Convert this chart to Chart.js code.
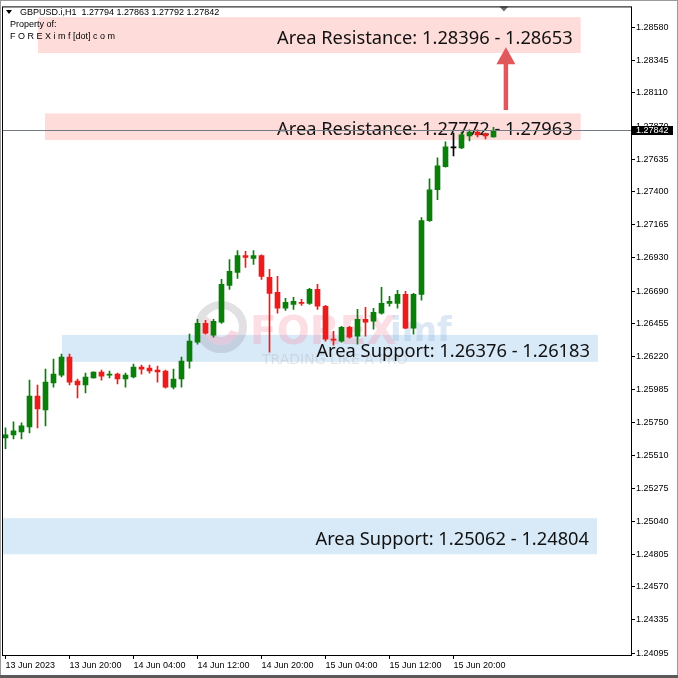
<!DOCTYPE html>
<html>
<head>
<meta charset="utf-8">
<title>GBPUSD H1</title>
<script src="https://cdn.jsdelivr.net/npm/chart.js@4.4.0/dist/chart.umd.min.js"></script>
<style>
  html, body { margin: 0; padding: 0; background: #fff; }
  #wrap { width: 678px; height: 678px; }
</style>
</head>
<body>
<div id="wrap"><canvas id="myChart" width="678" height="678"></canvas></div>
<script>
// GBPUSD.i H1, one bar per hour starting 13 Jun 2023 12:00
const symbol = 'GBPUSD.i,H1';

const opens = [1.25638, 1.25660, 1.25681, 1.25717, 1.25938, 1.25838, 1.26031, 1.26088, 1.26217, 1.26045,
  1.26017, 1.26067, 1.26110, 1.26088, 1.26095, 1.26060, 1.26074, 1.26145, 1.26138, 1.26124,
  1.26117, 1.26002, 1.26060, 1.26188, 1.26324, 1.26459, 1.26374, 1.26467, 1.26731, 1.26824,
  1.26945, 1.26924, 1.26945, 1.26788, 1.26681, 1.26567, 1.26595, 1.26609, 1.26602, 1.26702,
  1.26581, 1.26345, 1.26331, 1.26431, 1.26367, 1.26488, 1.26474, 1.26531, 1.26602, 1.26602,
  1.26666, 1.26424, 1.26666, 1.27195, 1.27416, 1.27581, 1.27716, 1.27716, 1.27802, 1.27830,
  1.27816, 1.27794];
const highs = [1.25710, 1.25753, 1.25745, 1.26052, 1.26017, 1.26131, 1.26202, 1.26238, 1.26238, 1.26060,
  1.26102, 1.26112, 1.26124, 1.26117, 1.26102, 1.26102, 1.26167, 1.26160, 1.26160, 1.26152,
  1.26124, 1.26131, 1.26217, 1.26381, 1.26488, 1.26481, 1.26488, 1.26774, 1.26916, 1.26981,
  1.26974, 1.26981, 1.26950, 1.26845, 1.26795, 1.26638, 1.26645, 1.26631, 1.26709, 1.26738,
  1.26588, 1.26402, 1.26438, 1.26438, 1.26559, 1.26574, 1.26567, 1.26716, 1.26652, 1.26695,
  1.26688, 1.26674, 1.27216, 1.27495, 1.27645, 1.27759, 1.27823, 1.27830, 1.27845, 1.27845,
  1.27823, 1.27863];
const lows = [1.25560, 1.25631, 1.25631, 1.25674, 1.25710, 1.25724, 1.26002, 1.26074, 1.26017, 1.25924,
  1.25960, 1.26065, 1.26052, 1.26067, 1.26024, 1.26002, 1.26067, 1.26095, 1.26102, 1.26038,
  1.25995, 1.25988, 1.26002, 1.26138, 1.26309, 1.26381, 1.26359, 1.26459, 1.26702, 1.26781,
  1.26859, 1.26881, 1.26774, 1.26252, 1.26531, 1.26552, 1.26559, 1.26588, 1.26595, 1.26559,
  1.26331, 1.26302, 1.26324, 1.26352, 1.26309, 1.26367, 1.26417, 1.26524, 1.26581, 1.26567,
  1.26420, 1.26381, 1.26624, 1.27190, 1.27345, 1.27578, 1.27659, 1.27710, 1.27766, 1.27795,
  1.27780, 1.27792];
const closes = [1.25660, 1.25688, 1.25724, 1.25938, 1.25845, 1.26038, 1.26095, 1.26217, 1.26038, 1.26017,
  1.26074, 1.26110, 1.26081, 1.26095, 1.26060, 1.26088, 1.26145, 1.26131, 1.26117, 1.26110,
  1.26002, 1.26060, 1.26188, 1.26331, 1.26459, 1.26388, 1.26474, 1.26738, 1.26831, 1.26945,
  1.26931, 1.26945, 1.26795, 1.26674, 1.26567, 1.26609, 1.26617, 1.26602, 1.26702, 1.26581,
  1.26345, 1.26338, 1.26431, 1.26359, 1.26488, 1.26467, 1.26538, 1.26602, 1.26617, 1.26666,
  1.26424, 1.26666, 1.27195, 1.27416, 1.27588, 1.27723, 1.27716, 1.27809, 1.27830, 1.27809,
  1.27802, 1.27842];

// one label every 8 bars
const timeLabels = ['13 Jun 2023', '13 Jun 20:00', '14 Jun 04:00', '14 Jun 12:00',
  '14 Jun 20:00', '15 Jun 04:00', '15 Jun 12:00', '15 Jun 20:00'];
const priceTicks = [1.28580, 1.28345, 1.28110, 1.27870, 1.27635, 1.27400, 1.27165, 1.26930, 1.26690, 1.26455,
  1.26220, 1.25985, 1.25750, 1.25510, 1.25275, 1.25040, 1.24805, 1.24570, 1.24335, 1.24095];

// zones drawn on the chart (from / to in bars)
const zones = [
  { kind: 'res', label: 'Area Resistance: 1.28396 - 1.28653', low: 1.28396, high: 1.28653, from: 4.06, to: 71.9 },
  { kind: 'res', label: 'Area Resistance: 1.27772 - 1.27963', low: 1.27772, high: 1.27963, from: 4.94, to: 71.9 },
  { kind: 'sup', label: 'Area Support: 1.26376 - 1.26183', low: 1.26183, high: 1.26376, from: 7.06, to: 74.06 },
  { kind: 'sup', label: 'Area Support: 1.25062 - 1.24804', low: 1.24804, high: 1.25062, from: -1, to: 73.94 }
];
const arrow = { at: 62.55, from: 1.27987, to: 1.28437 };
const shiftMark = 62.3;

const lastClose = closes[closes.length - 1];
const candleColor = opens.map((o, i) => closes[i] > o ? '#0a7f0a' : closes[i] < o ? '#ec1c1c' : '#000000');
const bodies = opens.map((o, i) => ({ x: i, y: [o, closes[i]] }));
const wicks = opens.map((o, i) => ({ x: i, y: [lows[i], highs[i]] }));

const smallFont = { family: 'Liberation Sans', size: 9 };

const overlay = {
  id: 'overlay',
  beforeDatasetsDraw(chart) {
    const { ctx, chartArea: a, scales: { x, y } } = chart;
    ctx.save();
    ctx.beginPath();
    ctx.rect(a.left, a.top, a.right - a.left, a.bottom - a.top);
    ctx.clip();

    zones.forEach(z => {
      const x0 = Math.max(a.left, x.getPixelForValue(z.from));
      const x1 = x.getPixelForValue(z.to);
      const y0 = y.getPixelForValue(z.high);
      const y1 = y.getPixelForValue(z.low);
      ctx.fillStyle = z.kind === 'res' ? '#fddcda' : '#d8e9f8';
      ctx.fillRect(x0, y0, x1 - x0, y1 - y0);
    });

    // faint watermark
    ctx.lineWidth = 8;
    ctx.strokeStyle = 'rgba(140,140,150,0.26)';
    ctx.beginPath(); ctx.arc(221, 327, 22, 0, Math.PI * 2); ctx.stroke();
    ctx.strokeStyle = 'rgba(240,130,155,0.30)';
    ctx.beginPath(); ctx.arc(221, 327, 14, 0.1 * Math.PI, 1.2 * Math.PI); ctx.stroke();
    ctx.textBaseline = 'alphabetic';
    ctx.textAlign = 'left';
    ctx.font = 'bold 39px "DejaVu Sans"';
    ctx.fillStyle = 'rgba(245,135,160,0.28)';
    ctx.fillText('FOREX', 250, 344);
    ctx.font = 'bold 34px "DejaVu Sans"';
    ctx.fillStyle = 'rgba(140,180,220,0.30)';
    ctx.fillText('imf', 390, 341);
    ctx.font = '14px "DejaVu Sans"';
    ctx.fillStyle = 'rgba(175,175,180,0.32)';
    ctx.fillText('TRADING LIKE A PRO', 262, 364);

    // zone captions
    ctx.font = '18.3px "Noto Sans"';
    ctx.fillStyle = '#111';
    ctx.textAlign = 'right';
    zones.forEach(z => {
      const x1 = x.getPixelForValue(z.to);
      const yc = (y.getPixelForValue(z.high) + y.getPixelForValue(z.low)) / 2;
      ctx.fillText(z.label, x1 - 8, yc + 8.5);
    });
    ctx.restore();
  },
  afterDatasetsDraw(chart) {
    const { ctx, chartArea: a, scales: { x, y } } = chart;
    ctx.save();
    // current price line
    const py = Math.round(y.getPixelForValue(lastClose)) + 0.5;
    ctx.strokeStyle = '#757b84';
    ctx.lineWidth = 1;
    ctx.beginPath(); ctx.moveTo(a.left, py); ctx.lineTo(a.right, py); ctx.stroke();

    // arrow between the two resistance zones
    const ax = x.getPixelForValue(arrow.at);
    const yTail = y.getPixelForValue(arrow.from);
    const yTip = y.getPixelForValue(arrow.to);
    ctx.strokeStyle = '#e0575c';
    ctx.fillStyle = '#e0575c';
    ctx.lineWidth = 4.5;
    ctx.beginPath(); ctx.moveTo(ax, yTail); ctx.lineTo(ax, yTip + 14); ctx.stroke();
    ctx.beginPath();
    ctx.moveTo(ax, yTip);
    ctx.lineTo(ax - 9.5, yTip + 17);
    ctx.lineTo(ax + 9.5, yTip + 17);
    ctx.closePath(); ctx.fill();

    // chart shift marker
    const sx = x.getPixelForValue(shiftMark);
    ctx.fillStyle = '#707070';
    ctx.beginPath();
    ctx.moveTo(sx - 4.5, a.top); ctx.lineTo(sx + 4.5, a.top); ctx.lineTo(sx, a.top + 5);
    ctx.closePath(); ctx.fill();
    ctx.restore();
  },
  afterDraw(chart) {
    const { ctx, chartArea: a, scales: { y } } = chart;
    ctx.save();
    // plot frame
    ctx.strokeStyle = '#000';
    ctx.lineWidth = 1;
    ctx.strokeRect(a.left + 0.5, a.top + 0.5, a.right - a.left, a.bottom - a.top);

    // last price box
    const py = Math.round(y.getPixelForValue(lastClose));
    ctx.fillStyle = '#000';
    ctx.fillRect(a.right, py - 4, 42, 9);
    ctx.fillStyle = '#fff';
    ctx.font = '9px "Liberation Sans"';
    ctx.textBaseline = 'middle';
    ctx.textAlign = 'left';
    ctx.fillText(lastClose.toFixed(5), a.right + 5, py + 0.5);

    // header
    const n = closes.length - 1;
    ctx.fillStyle = '#000';
    ctx.beginPath();
    ctx.moveTo(6, 10); ctx.lineTo(12, 10); ctx.lineTo(9, 14); ctx.closePath(); ctx.fill();
    ctx.fillText(symbol + '  ' + [opens[n], highs[n], lows[n], closes[n]].map(v => v.toFixed(5)).join(' '), 20, 13);
    ctx.fillText('Property of:', 10, 25);
    ctx.fillText('F O R E X i m f [dot] c o m', 10, 37);

    // window border
    ctx.strokeStyle = '#9a9a9a';
    ctx.lineWidth = 2;
    ctx.strokeRect(0, 0, 678, 678);
    ctx.fillStyle = '#5a5a5a';
    ctx.fillRect(0, 675, 678, 3);
    ctx.restore();
  }
};

new Chart(document.getElementById('myChart'), {
  type: 'bar',
  data: {
    datasets: [
      { label: 'body', data: bodies, backgroundColor: candleColor, barThickness: 5, minBarLength: 1, grouped: false, borderWidth: 0 },
      { label: 'wick', data: wicks, backgroundColor: candleColor, barThickness: 1, grouped: false, borderWidth: 0 }
    ]
  },
  options: {
    responsive: false,
    devicePixelRatio: 1,
    animation: false,
    layout: { padding: { left: 2, top: 4, right: 0, bottom: 0 } },
    plugins: { legend: { display: false }, tooltip: { enabled: false } },
    scales: {
      x: {
        type: 'linear',
        min: -0.4375,
        max: 78.1875,
        offset: false,
        afterBuildTicks: s => { s.ticks = timeLabels.map((_, i) => ({ value: i * 8 })); },
        afterFit: s => { s.height = 23; },
        ticks: { autoSkip: false, maxRotation: 0, align: 'start', padding: 1, color: '#000', font: smallFont,
          callback: (v, i) => timeLabels[i] },
        grid: { drawOnChartArea: false, offset: false, tickLength: 4, color: '#000' },
        border: { display: false }
      },
      y: {
        position: 'right',
        min: 1.24082,
        max: 1.28730,
        afterBuildTicks: s => { s.ticks = priceTicks.map(v => ({ value: v })); },
        afterFit: s => { s.width = 47; },
        ticks: { autoSkip: false, padding: 1, color: '#000', font: smallFont, callback: v => v.toFixed(5) },
        grid: { drawOnChartArea: false, tickLength: 4, color: '#000' },
        border: { display: false }
      }
    }
  },
  plugins: [overlay]
});
</script>
</body>
</html>
